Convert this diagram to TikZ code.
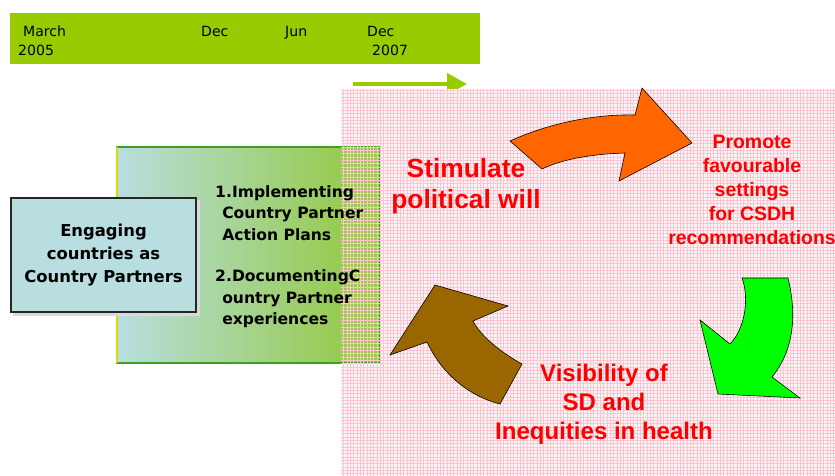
\documentclass[tikz,border=0pt]{standalone}
\usepackage{fontspec}
\setmainfont{DejaVu Sans}
\newfontfamily\arialfont{Liberation Sans}
\definecolor{barGreen}{RGB}{153, 204, 0}
\definecolor{boxBlue}{RGB}{184, 222, 224}
\definecolor{boxMid}{RGB}{180, 218, 188}
\definecolor{boxGreen}{RGB}{146, 200, 56}
\definecolor{edgeGreen}{RGB}{60, 160, 30}
\definecolor{edgeYellow}{RGB}{210, 220, 0}
\definecolor{dotPink}{RGB}{255, 196, 208}
\definecolor{paperPink}{RGB}{255, 244, 246}
\definecolor{alertRed}{RGB}{255, 0, 0}
\definecolor{turnOrange}{RGB}{255, 102, 0}
\definecolor{turnGreen}{RGB}{0, 255, 0}
\definecolor{turnBrown}{RGB}{153, 102, 0}
\usetikzlibrary{arrows.meta}

\begin{document}
\begin{tikzpicture}[x=0.03cm, y=-0.03cm,
  tltext/.style={font=\fontsize{12pt}{14pt}\selectfont, anchor=base west, inner sep=0pt},
  steptext/.style={font=\bfseries\fontsize{13.3pt}{18.4pt}\selectfont, align=left, anchor=west, inner sep=0pt},
  redtext/.style={text=alertRed, align=center, inner sep=0pt},
  turn/.style={draw=black, line width=0.5pt, line join=miter}]
  \useasboundingbox (0,0) rectangle (835,476);

  % Timeline
  \fill[barGreen] (10,13) rectangle (480,64);
  \node[tltext] (march) at (23,36) {March};
  \node[tltext] (yearA) at (18,55) {2005};
  \node[tltext] (decA) at (201,36) {Dec};
  \node[tltext] (junB) at (285,36) {Jun};
  \node[tltext] (decB) at (367,36) {Dec};
  \node[tltext] (yearB) at (372,55) {2007};

  \coordinate (goStart) at (353,84);
  \coordinate (goEnd) at (467,84);
  \draw[barGreen, line width=3.4pt, -{Triangle[length=0.6cm, width=0.63cm]}] (goStart) -- (goEnd);

  % Dotted background
  \fill[paperPink] (341,89) rectangle (835,476);

  % Country partner work
  \draw[draw=edgeGreen, line width=1.2pt, left color=boxBlue, middle color=boxMid, right color=boxGreen] (117,147) rectangle (380,363);
  \draw[edgeYellow, line width=1.2pt] (117,147) -- (117,363);
  \draw[dotPink, line width=0.22pt, step=0.1cm] (341,476) grid (835,89);

  \node[steptext] (stepOne) at (215,213) {1.Implementing\\\hspace*{6pt}Country Partner\\\hspace*{6pt}Action Plans};
  \node[steptext] (stepTwo) at (215,299) {2.DocumentingC\\\hspace*{6pt}ountry Partner\\\hspace*{6pt}experiences};

  \fill[black!15] (13,200) rectangle (200,316);
  \node[draw=black!85, line width=1.6pt, fill=boxBlue, minimum width=5.55cm, minimum height=3.42cm, align=center,
    font=\bfseries\fontsize{14pt}{19.6pt}\selectfont] (engage) at (103.5,255) {Engaging\\countries as\\Country Partners};

  % Cycle labels
  \node[redtext, font=\arialfont\bfseries\fontsize{22.5pt}{27pt}\selectfont] (stimulate) at (466,186) {Stimulate\\political will};
  \node[redtext, font=\arialfont\bfseries\fontsize{16.6pt}{20.5pt}\selectfont] (promote) at (752,190) {Promote\\favourable\\settings\\for CSDH\\recommendations};
  \node[redtext, font=\arialfont\bfseries\fontsize{20.5pt}{24.8pt}\selectfont] (visible) at (604,404) {Visibility of\\SD and\\Inequities in health};

  % Cycle arrows
  \filldraw[turn, fill=turnOrange] (510,141) .. controls (545,125) and (590,114) .. (635,115)
    -- (642,88) -- (692,143) -- (619,181) -- (625,153)
    .. controls (590,154) and (560,160) .. (542,169) -- cycle;
  \filldraw[turn, fill=turnGreen] (742,278) -- (788,278) .. controls (797,315) and (794,350) .. (772,377)
    -- (800,398) -- (718,394) -- (700,320) -- (730,344)
    .. controls (744,330) and (750,300) .. (742,278) -- cycle;
  \filldraw[turn, fill=turnBrown] (522,364) -- (500,404) .. controls (465,395) and (440,370) .. (427,342)
    -- (390,355) -- (435,285) -- (508,306) -- (473,321)
    .. controls (480,335) and (500,352) .. (522,364) -- cycle;
\end{tikzpicture}
\end{document}
